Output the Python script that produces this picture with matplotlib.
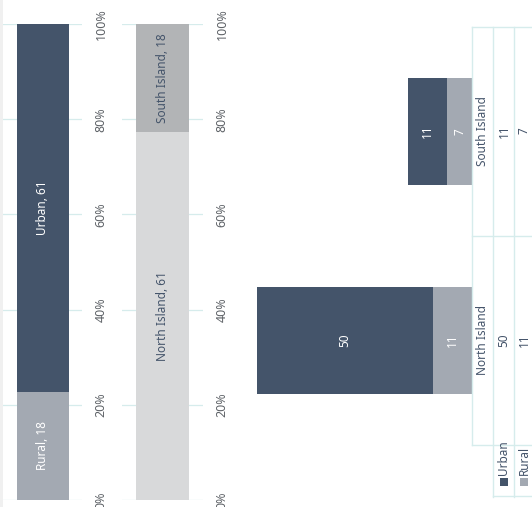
import matplotlib.pyplot as plt
from matplotlib.patches import Rectangle
from matplotlib.lines import Line2D

plt.rcParams['font.family'] = ['Noto Sans', 'DejaVu Sans']

# data
area_labels = ['Rural', 'Urban']
area_values = [18, 61]
island_labels = ['North Island', 'South Island']
island_values = [61, 18]
series_names = ['Urban', 'Rural']
urban_by_island = [50, 11]
rural_by_island = [11, 7]
pct_ticks = [0, 20, 40, 60, 80, 100]
pct_labels = ['0%', '20%', '40%', '60%', '80%', '100%']

c_urban = '#44546a'
c_rural = '#a3a9b2'
c_north = '#d8d9da'
c_south = '#b2b4b6'
c_grid = '#d6ecec'
c_text = '#44546a'
c_tick = '#5f6368'
fs = 8.5

W, H = 532, 507
fig = plt.figure(figsize=(W / 100, H / 100), dpi=100)


def box(left, top, right, bottom):
    # pixel box -> figure fraction rect
    return [left / W, 1 - bottom / H, (right - left) / W, (bottom - top) / H]


def fx(px):
    return px / W


def fy(py):
    return 1 - py / H


# thin grey strip at the left edge
fig.add_artist(Rectangle((0, 0), fx(3), 1, transform=fig.transFigure,
                         color='#f0f0f0', lw=0))


def pct_panel(rect, labels, values, colors, txt_colors, bar_w):
    ax = fig.add_axes(rect)
    total = sum(values)
    bottom = 0
    for lab, v, c, tc in zip(labels, values, colors, txt_colors):
        p = v / total * 100
        ax.bar(0, p, bottom=bottom, width=bar_w, color=c, zorder=2)
        ax.text(0, bottom + p / 2, f'{lab}, {v}', rotation=90, ha='center',
                va='center', color=tc, fontsize=fs, zorder=3)
        bottom += p
    ax.set_xlim(-0.5, 0.5)
    ax.set_ylim(0, 100)
    ax.set_yticks(pct_ticks)
    ax.set_yticklabels(pct_labels, rotation=90, va='center', color=c_tick,
                       fontsize=9)
    ax.yaxis.tick_right()
    ax.tick_params(axis='y', length=0, pad=9)
    ax.set_xticks([])
    ax.grid(axis='y', color=c_grid, lw=0.9, zorder=0)
    for s in ax.spines.values():
        s.set_visible(False)
    ax.patch.set_alpha(0)
    return ax


pct_panel(box(3, 24, 82, 500), area_labels, area_values,
          [c_rural, c_urban], ['white', 'white'], 52 / 79)
pct_panel(box(122, 24, 203, 500), island_labels, island_values,
          [c_north, c_south], [c_text, c_text], 53 / 81)

# stacked columns (rotated) with data table
ax3 = fig.add_axes(box(472 - 70 * 3.53, 27, 472, 445))
ypos = range(len(island_labels))
ax3.barh(ypos, rural_by_island, height=0.51, color=c_rural, zorder=2)
ax3.barh(ypos, urban_by_island, left=rural_by_island, height=0.51,
         color=c_urban, zorder=2)
for i in ypos:
    r, u = rural_by_island[i], urban_by_island[i]
    ax3.text(r / 2, i, str(r), rotation=90, ha='center', va='center',
             color='white', fontsize=fs)
    ax3.text(r + u / 2, i, str(u), rotation=90, ha='center', va='center',
             color='white', fontsize=fs)
ax3.set_xlim(70, 0)
ax3.set_ylim(-0.5, 1.5)
ax3.axis('off')

# table grid
tbl_lines = [
    ((472, 472), (27, 445)),
    ((493, 493), (27, 497)),
    ((514, 514), (27, 497)),
    ((472, 532), (27, 27)),
    ((472, 532), (236, 236)),
    ((472, 532), (445, 445)),
    ((493, 532), (496, 496)),
]
for xs, ys in tbl_lines:
    fig.add_artist(Line2D([fx(x) for x in xs], [fy(y) for y in ys],
                          transform=fig.transFigure, color=c_grid, lw=1))

cat_y = [340, 131]
for i, name in enumerate(island_labels):
    fig.text(fx(483), fy(cat_y[i]), name, rotation=90, ha='center',
             va='center', color=c_text, fontsize=fs)
    fig.text(fx(504), fy(cat_y[i]), str(urban_by_island[i]), rotation=90,
             ha='center', va='center', color=c_text, fontsize=fs)
    fig.text(fx(524), fy(cat_y[i]), str(rural_by_island[i]), rotation=90,
             ha='center', va='center', color=c_text, fontsize=fs)

# legend keys in the table
for xc, name, c in [(504, series_names[0], c_urban),
                    (524, series_names[1], c_rural)]:
    fig.add_artist(Rectangle((fx(xc - 4), fy(486)), 8 / W, 8 / H,
                             transform=fig.transFigure, color=c, lw=0))
    fig.text(fx(xc), fy(475), name, rotation=90, rotation_mode='anchor',
             ha='left', va='center', color=c_text, fontsize=fs)

fig.savefig('out.png', dpi=100)
